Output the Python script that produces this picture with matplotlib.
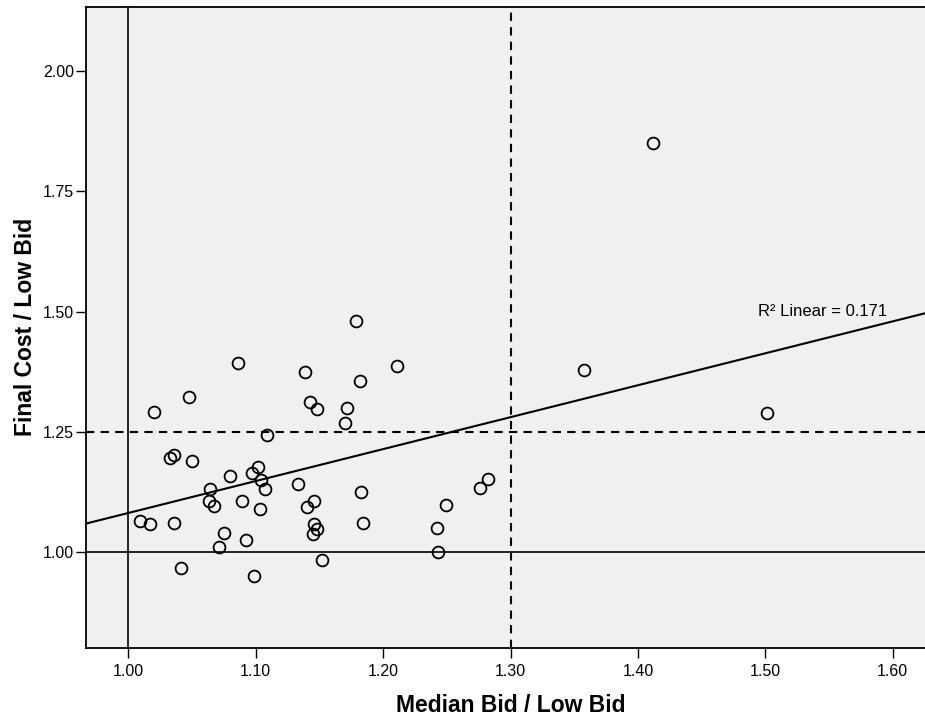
import matplotlib
matplotlib.use("Agg")
import matplotlib.pyplot as plt
import numpy as np

plt.rcParams['font.family'] = ['Liberation Sans', 'DejaVu Sans']

# Median bid / low bid vs final cost / low bid
median_ratio = [1.412, 1.358, 1.501, 1.179, 1.086, 1.211, 1.139, 1.182, 1.048, 1.143,
                1.148, 1.172, 1.020, 1.170, 1.109, 1.033, 1.036, 1.050, 1.080, 1.102,
                1.097, 1.104, 1.107, 1.064, 1.063, 1.067, 1.089, 1.103, 1.133, 1.140,
                1.146, 1.183, 1.282, 1.276, 1.249, 1.009, 1.017, 1.036, 1.184, 1.146,
                1.148, 1.145, 1.075, 1.092, 1.071, 1.242, 1.243, 1.041, 1.099, 1.152]
final_ratio = [1.850, 1.378, 1.288, 1.480, 1.393, 1.387, 1.374, 1.355, 1.322, 1.311,
               1.297, 1.299, 1.291, 1.268, 1.243, 1.195, 1.201, 1.189, 1.158, 1.177,
               1.165, 1.150, 1.131, 1.131, 1.107, 1.096, 1.106, 1.090, 1.142, 1.093,
               1.106, 1.125, 1.152, 1.133, 1.098, 1.065, 1.058, 1.060, 1.060, 1.058,
               1.048, 1.037, 1.040, 1.025, 1.010, 1.050, 1.000, 0.967, 0.950, 0.984]

x_ticks = [1.00, 1.10, 1.20, 1.30, 1.40, 1.50, 1.60]
y_ticks = [1.00, 1.25, 1.50, 1.75, 2.00]

x = np.array(median_ratio)
y = np.array(final_ratio)

fig = plt.figure(figsize=(9.25, 7.17), dpi=100)
ax = fig.add_axes([0.0927, 0.0966, 0.9073, 0.8936])
ax.set_facecolor('#f0f0f0')

xmin, xmax = 0.9666, 1.6253
ymin, ymax = 0.801, 2.133

# reference lines
ax.axvline(1.00, color='black', lw=1.2, zorder=1)
ax.axhline(1.00, color='black', lw=1.2, zorder=1)
ax.axvline(1.30, color='black', lw=1.5, ls=(0, (4, 3)), zorder=1)
ax.axhline(1.25, color='black', lw=1.5, ls=(0, (4, 3)), zorder=1)

# linear fit
slope, intercept = np.polyfit(x, y, 1)
xs = np.array([xmin, xmax])
ax.plot(xs, intercept + slope * xs, color='black', lw=1.5, zorder=2)
ax.text(1.4943, 1.499, 'R² Linear = 0.171', fontsize=12, va='center', ha='left')

ax.plot(x, y, 'o', mfc='none', mec='black', ms=8.5, mew=1.3, zorder=3)

ax.set_xlim(xmin, xmax)
ax.set_ylim(ymin, ymax)
ax.set_xticks(x_ticks)
ax.set_xticklabels([f'{v:.2f}' for v in x_ticks])
ax.set_yticks(y_ticks)
ax.set_yticklabels([f'{v:.2f}' for v in y_ticks])
ax.tick_params(direction='out', length=7.5, width=1, labelsize=11.5)
ax.tick_params(axis='x', pad=4)
ax.tick_params(axis='y', pad=1)

for s in ax.spines.values():
    s.set_linewidth(1.3)
ax.spines['right'].set_visible(False)

ax.set_xlabel('Median Bid / Low Bid', fontsize=16.5, fontweight='bold')
ax.xaxis.set_label_coords(0.5065, -0.0724)
ax.set_ylabel('Final Cost / Low Bid', fontsize=16.5, fontweight='bold', labelpad=4)

fig.savefig('out.png', dpi=100, facecolor='white')
